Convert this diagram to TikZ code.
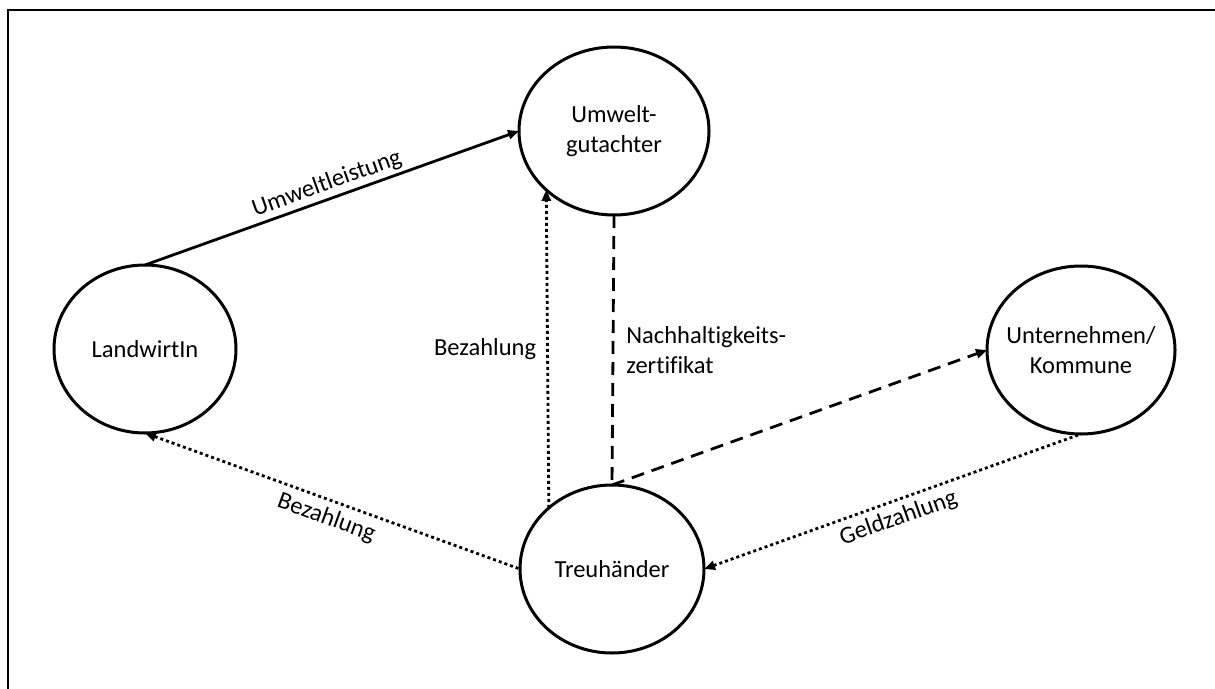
\documentclass[tikz,border=0pt]{standalone}
\usepackage{fontspec}
\setmainfont{Carlito}[Ligatures={NoCommon}]
\usetikzlibrary{shapes.geometric,arrows.meta}
\begin{document}
\begin{tikzpicture}[x=1pt,y=-1pt,
  actor/.style={ellipse, draw, line width=3pt, inner sep=0pt, outer sep=0pt, minimum height=168pt},
  txt/.style={font=\fontsize{24.5}{30}\selectfont, align=center},
  conn/.style={line width=2.8pt},
  tipend/.style={-{Triangle[length=11pt,width=9pt]}},
  tipstart/.style={{Triangle[length=11pt,width=9pt]}-},
  dashline/.style={conn, dash pattern=on 13pt off 8pt},
  dotline/.style={conn, dash pattern=on 3pt off 3pt},
]
\clip (0,0) rectangle (1215,688);
\useasboundingbox (0,0) rectangle (1215,688);
\draw[line width=2pt] (8,10) rectangle (1240,720);

\node[actor, minimum width=190pt, label={[txt]center:Umwelt-\\gutachter}] (ug) at (614,131) {};
\node[actor, minimum width=184pt, label={[txt]center:Treuhänder}] (th) at (612,569) {};
\node[actor, minimum width=182pt, label={[txt]center:LandwirtIn}] (lw) at (145,349) {};
\node[actor, minimum width=188pt, label={[txt]center:Unternehmen/\\Kommune}] (un) at (1081,350) {};

\draw[conn,tipend] (lw.north) -- node[txt, sloped, above, pos=0.5, inner sep=3pt] (l1) {Umweltleistung} (ug.west);
\draw[dotline,tipend] (th.136.7) -- node[txt, left, inner sep=10pt] (l2) {Bezahlung} (ug.221.7);
\draw[dashline] (ug.south) -- node[txt, right, align=left, inner sep=12pt] (l3) {Nachhaltigkeits-\\zertifikat} (th.north);
\draw[dashline,tipend] (th.north) -- (un.west);
\draw[dotline,tipstart] (lw.south) -- node[txt, sloped, below, inner sep=6pt] (l4) {Bezahlung} (th.west);
\draw[dotline,tipstart] (th.east) -- node[txt, sloped, below, inner sep=6pt] (l5) {Geldzahlung} (un.south);
\end{tikzpicture}
\end{document}
